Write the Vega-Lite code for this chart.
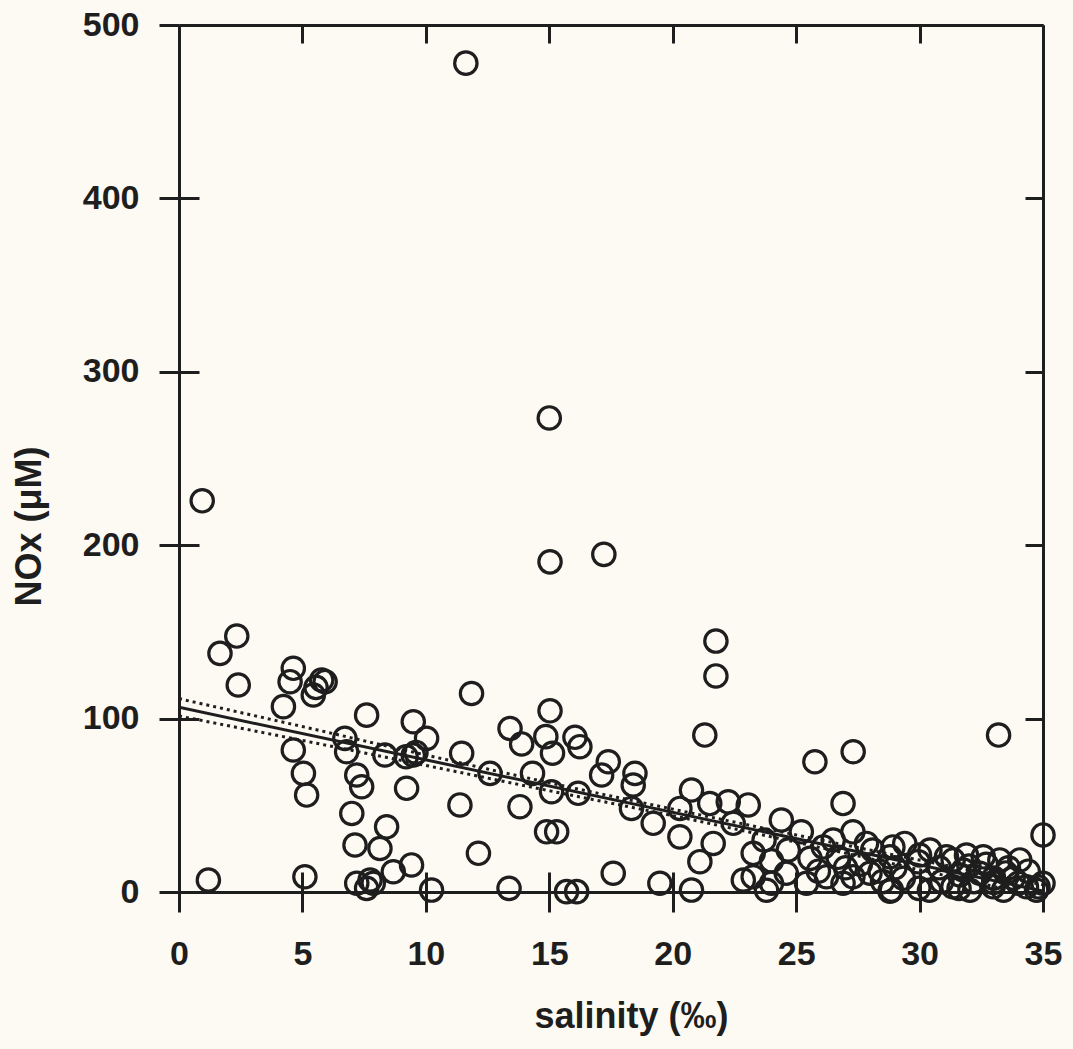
{
  "$schema": "https://vega.github.io/schema/vega-lite/v6.json",
  "width": 864,
  "height": 867,
  "autosize": {"type": "none"},
  "padding": {"left": 179, "top": 25, "right": 30, "bottom": 157},
  "background": "#fdfaf3",
  "config": {
    "view": {"stroke": null},
    "axis": {
      "grid": false,
      "domainColor": "#1e1e1e",
      "domainWidth": 3,
      "tickColor": "#1e1e1e",
      "tickWidth": 3,
      "labelFont": "Liberation Sans",
      "labelFontWeight": "bold",
      "labelFontSize": 34,
      "labelColor": "#1e1e1e",
      "titleFont": "Liberation Sans",
      "titleFontWeight": "bold",
      "titleFontSize": 36,
      "titleColor": "#1e1e1e",
      "labelFlush": false,
      "labelOverlap": false
    }
  },
  "datasets": {
    "points": [
      {"salinity": 0.94, "nox": 225.6}, {"salinity": 2.34, "nox": 147.6}, {"salinity": 1.66, "nox": 137.6},
      {"salinity": 2.4, "nox": 119.4}, {"salinity": 1.19, "nox": 6.9}, {"salinity": 4.63, "nox": 129},
      {"salinity": 4.5, "nox": 121.3}, {"salinity": 5.78, "nox": 122.3}, {"salinity": 5.92, "nox": 121.3},
      {"salinity": 5.44, "nox": 113.6}, {"salinity": 5.55, "nox": 118}, {"salinity": 4.23, "nox": 106.9},
      {"salinity": 4.63, "nox": 81.9}, {"salinity": 5.04, "nox": 68.4}, {"salinity": 5.17, "nox": 55.9},
      {"salinity": 5.1, "nox": 8.8}, {"salinity": 7.6, "nox": 102}, {"salinity": 6.72, "nox": 88.6},
      {"salinity": 6.79, "nox": 80.9}, {"salinity": 7.2, "nox": 67.5}, {"salinity": 7.4, "nox": 60.7},
      {"salinity": 7.0, "nox": 45.3}, {"salinity": 7.13, "nox": 27.1}, {"salinity": 7.2, "nox": 5},
      {"salinity": 7.74, "nox": 6.9}, {"salinity": 7.87, "nox": 5}, {"salinity": 7.6, "nox": 2.1},
      {"salinity": 8.34, "nox": 79}, {"salinity": 8.41, "nox": 37.6}, {"salinity": 8.14, "nox": 25.1},
      {"salinity": 8.68, "nox": 11.7}, {"salinity": 9.42, "nox": 15.6}, {"salinity": 9.49, "nox": 98.2},
      {"salinity": 10.03, "nox": 88.6}, {"salinity": 9.49, "nox": 79}, {"salinity": 9.2, "nox": 78},
      {"salinity": 9.6, "nox": 80.5}, {"salinity": 9.22, "nox": 59.8}, {"salinity": 10.23, "nox": 1.1},
      {"salinity": 11.38, "nox": 50.2}, {"salinity": 11.45, "nox": 80}, {"salinity": 11.85, "nox": 114.5},
      {"salinity": 12.13, "nox": 22.3}, {"salinity": 11.62, "nox": 478},
      {"salinity": 12.6, "nox": 68.4}, {"salinity": 13.41, "nox": 94.3}, {"salinity": 13.88, "nox": 85.4},
      {"salinity": 14.86, "nox": 89.6}, {"salinity": 15.13, "nox": 80}, {"salinity": 16.04, "nox": 89.2},
      {"salinity": 16.24, "nox": 83.8}, {"salinity": 14.32, "nox": 68.4}, {"salinity": 15.09, "nox": 57.8},
      {"salinity": 16.17, "nox": 56.9}, {"salinity": 15.03, "nox": 104.5}, {"salinity": 15.03, "nox": 190.4},
      {"salinity": 15.0, "nox": 273.4}, {"salinity": 17.21, "nox": 194.7}, {"salinity": 13.81, "nox": 49.2},
      {"salinity": 14.89, "nox": 34.7}, {"salinity": 15.3, "nox": 34.7}, {"salinity": 13.37, "nox": 2.1},
      {"salinity": 15.7, "nox": 0.2}, {"salinity": 16.11, "nox": 0.2}, {"salinity": 17.39, "nox": 75.1},
      {"salinity": 17.12, "nox": 67.5}, {"salinity": 18.47, "nox": 68.4}, {"salinity": 18.4, "nox": 61.7},
      {"salinity": 18.33, "nox": 48.2}, {"salinity": 19.21, "nox": 39.6}, {"salinity": 17.59, "nox": 10.8},
      {"salinity": 19.48, "nox": 5}, {"salinity": 20.76, "nox": 1.1}, {"salinity": 20.76, "nox": 58.8},
      {"salinity": 20.29, "nox": 48.2}, {"salinity": 20.29, "nox": 31.8}, {"salinity": 21.5, "nox": 51},
      {"salinity": 22.25, "nox": 52}, {"salinity": 23.06, "nox": 50.2}, {"salinity": 22.45, "nox": 39.6},
      {"salinity": 21.64, "nox": 28}, {"salinity": 21.1, "nox": 17.5}, {"salinity": 21.3, "nox": 90.5},
      {"salinity": 21.75, "nox": 144.7}, {"salinity": 21.75, "nox": 124.6}, {"salinity": 23.26, "nox": 22.3},
      {"salinity": 22.86, "nox": 6.9},
      {"salinity": 26.9, "nox": 51}, {"salinity": 24.4, "nox": 41.5}, {"salinity": 25.21, "nox": 34.7},
      {"salinity": 24.68, "nox": 24.2}, {"salinity": 25.56, "nox": 19.4}, {"salinity": 26.5, "nox": 30},
      {"salinity": 27.3, "nox": 34.7}, {"salinity": 27.85, "nox": 28}, {"salinity": 28.92, "nox": 26},
      {"salinity": 26.1, "nox": 26}, {"salinity": 23.26, "nox": 8.8}, {"salinity": 24.6, "nox": 10.8},
      {"salinity": 26.23, "nox": 8.8}, {"salinity": 27.3, "nox": 8.8}, {"salinity": 27.99, "nox": 10.8},
      {"salinity": 24.0, "nox": 5}, {"salinity": 25.42, "nox": 5}, {"salinity": 26.9, "nox": 5},
      {"salinity": 28.8, "nox": 0.5}, {"salinity": 25.76, "nox": 75.1}, {"salinity": 27.31, "nox": 80.9},
      {"salinity": 33.2, "nox": 90.5}, {"salinity": 23.8, "nox": 1}, {"salinity": 28.1, "nox": 24.2},
      {"salinity": 28.4, "nox": 12},
      {"salinity": 35.0, "nox": 32.9}, {"salinity": 29.4, "nox": 28}, {"salinity": 30.0, "nox": 21.3},
      {"salinity": 28.8, "nox": 20.3}, {"salinity": 31.09, "nox": 20.3}, {"salinity": 31.9, "nox": 21.3},
      {"salinity": 32.58, "nox": 20.3}, {"salinity": 33.25, "nox": 18.5}, {"salinity": 34.06, "nox": 18.5},
      {"salinity": 29.34, "nox": 7.9}, {"salinity": 31.63, "nox": 9.8}, {"salinity": 32.44, "nox": 10.8},
      {"salinity": 33.79, "nox": 7.9}, {"salinity": 35.0, "nox": 5}, {"salinity": 31.35, "nox": 3},
      {"salinity": 32.98, "nox": 3}, {"salinity": 34.33, "nox": 3}, {"salinity": 30.4, "nox": 1},
      {"salinity": 32.04, "nox": 1}, {"salinity": 33.4, "nox": 1}, {"salinity": 34.74, "nox": 1},
      {"salinity": 29.95, "nox": 17.5}, {"salinity": 30.42, "nox": 24.2}, {"salinity": 31.36, "nox": 18.5},
      {"salinity": 31.77, "nox": 12.7}, {"salinity": 32.7, "nox": 16}, {"salinity": 33.6, "nox": 14},
      {"salinity": 34.4, "nox": 12}, {"salinity": 30.9, "nox": 6}, {"salinity": 32.2, "nox": 6},
      {"salinity": 33.0, "nox": 8}, {"salinity": 34.0, "nox": 5}, {"salinity": 29.97, "nox": 2.1},
      {"salinity": 28.86, "nox": 1.1}, {"salinity": 30.8, "nox": 14}, {"salinity": 32.0, "nox": 15},
      {"salinity": 33.5, "nox": 11}, {"salinity": 34.8, "nox": 3}, {"salinity": 31.6, "nox": 2},
      {"salinity": 33.0, "nox": 5.5}, {"salinity": 29.0, "nox": 14}, {"salinity": 27.6, "nox": 16},
      {"salinity": 26.7, "nox": 20}, {"salinity": 24.0, "nox": 18}, {"salinity": 25.9, "nox": 12},
      {"salinity": 23.7, "nox": 30}, {"salinity": 27.0, "nox": 14}, {"salinity": 28.5, "nox": 6}
    ],
    "fit": [
      {"salinity": 0, "nox": 106.5},
      {"salinity": 35, "nox": 0.5}
    ],
    "band": [
      {"bound": "upper", "salinity": 0, "nox": 111.5},
      {"bound": "upper", "salinity": 5, "nox": 95.4},
      {"bound": "upper", "salinity": 10, "nox": 79.0},
      {"bound": "upper", "salinity": 15, "nox": 63.0},
      {"bound": "upper", "salinity": 20, "nox": 47.8},
      {"bound": "upper", "salinity": 25, "nox": 32.9},
      {"bound": "upper", "salinity": 30, "nox": 18.4},
      {"bound": "upper", "salinity": 35, "nox": 4.2},
      {"bound": "lower", "salinity": 0, "nox": 101.5},
      {"bound": "lower", "salinity": 5, "nox": 87.4},
      {"bound": "lower", "salinity": 10, "nox": 73.0},
      {"bound": "lower", "salinity": 15, "nox": 58.4},
      {"bound": "lower", "salinity": 20, "nox": 44.0},
      {"bound": "lower", "salinity": 25, "nox": 28.7},
      {"bound": "lower", "salinity": 30, "nox": 12.8},
      {"bound": "lower", "salinity": 35, "nox": -3.2}
    ]
  },
  "resolve": {"axis": {"x": "independent", "y": "independent"}},
  "layer": [
    {
      "data": {"name": "points"},
      "mark": {"type": "point", "shape": "circle", "filled": false, "size": 500, "strokeWidth": 3.2, "color": "#1e1e1e", "opacity": 1},
      "encoding": {
        "x": {
          "field": "salinity", "type": "quantitative",
          "scale": {"domain": [0, 35], "nice": false, "zero": false},
          "axis": {"orient": "bottom", "values": [0, 5, 10, 15, 20, 25, 30, 35], "tickSize": 20, "labelPadding": 25, "title": "salinity (‰)", "titlePadding": 28, "titleX": 452}
        },
        "y": {
          "field": "nox", "type": "quantitative",
          "scale": {"domain": [0, 500], "nice": false},
          "axis": {"orient": "left", "values": [0, 100, 200, 300, 400, 500], "tickSize": 20, "labelPadding": 20, "title": "NOx (μM)", "titlePadding": 34, "titleY": 501}
        }
      }
    },
    {
      "data": {"name": "fit"},
      "mark": {"type": "line", "clip": true, "strokeWidth": 3, "color": "#1e1e1e"},
      "encoding": {
        "x": {
          "field": "salinity", "type": "quantitative",
          "axis": {"orient": "top", "values": [0, 5, 10, 15, 20, 25, 30, 35], "tickSize": -18, "labels": false, "title": null}
        },
        "y": {
          "field": "nox", "type": "quantitative",
          "axis": {"orient": "right", "values": [0, 100, 200, 300, 400, 500], "tickSize": -18, "labels": false, "title": null}
        }
      }
    },
    {
      "data": {"name": "band"},
      "mark": {"type": "line", "clip": true, "strokeWidth": 3, "strokeDash": [3, 4], "color": "#1e1e1e", "interpolate": "monotone"},
      "encoding": {
        "x": {
          "field": "salinity", "type": "quantitative",
          "axis": {"orient": "bottom", "values": [0, 5, 10, 15, 20, 25, 30, 35], "tickSize": -20, "labels": false, "domain": false, "title": null}
        },
        "y": {
          "field": "nox", "type": "quantitative",
          "axis": {"orient": "left", "values": [0, 100, 200, 300, 400, 500], "tickSize": -20, "labels": false, "domain": false, "title": null}
        },
        "detail": {"field": "bound"}
      }
    }
  ]
}
